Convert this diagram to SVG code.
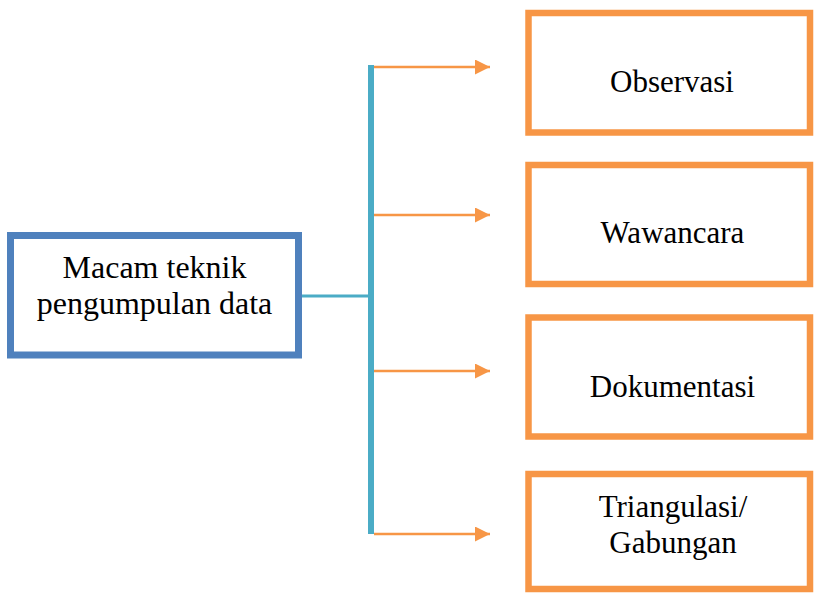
<svg xmlns="http://www.w3.org/2000/svg" width="814" height="593" viewBox="0 0 814 593">
<style>
.t{font-family:"Liberation Serif","Times New Roman",serif;fill:#000;text-anchor:middle}
.o{fill:#fff;stroke:#F79646;stroke-width:6.5}
.b{fill:#fff;stroke:#4F81BD;stroke-width:7}
.c{stroke:#4BACC6;fill:none}
.a{stroke:#F79646;stroke-width:2.5;fill:none;marker-end:url(#ah)}
</style>
<defs>
<marker id="ah" markerUnits="userSpaceOnUse" markerWidth="16" markerHeight="16" refX="15" refY="7.5" orient="auto">
<path d="M0,0 L15,7.5 L0,15 Z" fill="#F79646"/>
</marker>
</defs>
<g id="connectors">
<line class="c" x1="302" y1="296" x2="371" y2="296" stroke-width="3"/>
<line class="c" x1="371" y1="65" x2="371" y2="534" stroke-width="6"/>
<line class="a" x1="374" y1="67" x2="490" y2="67"/>
<line class="a" x1="374" y1="215" x2="490" y2="215"/>
<line class="a" x1="374" y1="371" x2="490" y2="371"/>
<line class="a" x1="374" y1="534" x2="490" y2="534"/>
</g>
<g id="source">
<rect class="b" x="10.5" y="235.5" width="288" height="119.5"/>
<text class="t" x="154.5" y="278" font-size="32">Macam teknik</text>
<text class="t" x="154.5" y="314" font-size="32">pengumpulan data</text>
</g>
<g id="observasi">
<rect class="o" x="528.5" y="13" width="281.5" height="119.5"/>
<text class="t" x="672" y="92" font-size="31">Observasi</text>
</g>
<g id="wawancara">
<rect class="o" x="528.5" y="165" width="281.5" height="119"/>
<text class="t" x="672.5" y="243" font-size="31">Wawancara</text>
</g>
<g id="dokumentasi">
<rect class="o" x="528.5" y="317.5" width="281.5" height="119"/>
<text class="t" x="672.5" y="397" font-size="31">Dokumentasi</text>
</g>
<g id="triangulasi">
<rect class="o" x="528.5" y="474" width="281.5" height="115"/>
<text class="t" x="673" y="517" font-size="31">Triangulasi/</text>
<text class="t" x="673" y="553" font-size="31">Gabungan</text>
</g>
</svg>
